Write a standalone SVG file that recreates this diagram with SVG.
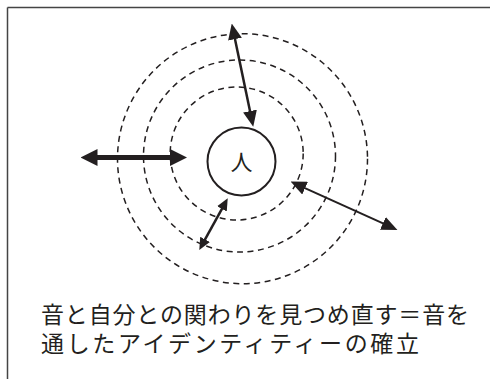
<svg xmlns="http://www.w3.org/2000/svg" width="490" height="379" viewBox="0 0 490 379">
<style>
.dash{fill:none;stroke:#231f20;stroke-width:1.5;stroke-dasharray:6 4.5}
.arr{stroke:#231f20;fill:none}
.lbl{font-family:"Liberation Serif","Noto Sans CJK JP",serif;fill:#231f20}
</style>
<defs>
<marker id="h16" markerUnits="userSpaceOnUse" markerWidth="16" markerHeight="14" refX="2" refY="7" orient="auto-start-reverse"><path d="M0,0 L16,7 L0,14 z" fill="#231f20"/></marker>
<marker id="h17" markerUnits="userSpaceOnUse" markerWidth="17" markerHeight="17" refX="2" refY="8.5" orient="auto-start-reverse"><path d="M0,0 L17,8.5 L0,17 z" fill="#231f20"/></marker>
<marker id="h12" markerUnits="userSpaceOnUse" markerWidth="12" markerHeight="11" refX="2" refY="5.5" orient="auto-start-reverse"><path d="M0,0 L12,5.5 L0,11 z" fill="#231f20"/></marker>
</defs>
<rect width="490" height="379" fill="#fff"/>
<g id="frame" stroke="#444" stroke-width="1.5" fill="none">
<line x1="7.5" y1="7.5" x2="490" y2="7.5"/>
<line x1="7.5" y1="7.5" x2="7.5" y2="379"/>
</g>
<g id="rings">
<circle class="dash" cx="236.7" cy="153.5" r="66.5"/>
<circle class="dash" cx="239.5" cy="156" r="96"/>
<circle class="dash" cx="242.5" cy="158.7" r="125"/>
</g>
<g id="person">
<circle cx="241.5" cy="161.5" r="34" fill="#fff" stroke="#231f20" stroke-width="2"/>
<text class="lbl" x="241.5" y="170" font-size="22" text-anchor="middle">人</text>
</g>
<g id="connectors">
<line class="arr" stroke-width="2.5" x1="234.6" y1="37.2" x2="250.4" y2="113" marker-start="url(#h16)" marker-end="url(#h16)"/>
<line class="arr" stroke-width="5" x1="95.5" y1="157.5" x2="172" y2="157.5" marker-start="url(#h17)" marker-end="url(#h17)"/>
<line class="arr" stroke-width="2" x1="303.3" y1="187.3" x2="384.7" y2="224.2" marker-start="url(#h16)" marker-end="url(#h16)"/>
<line class="arr" stroke-width="2.5" x1="222.9" y1="207.1" x2="204.1" y2="241.2" marker-start="url(#h12)" marker-end="url(#h12)"/>
</g>
<g id="caption">
<text class="lbl" x="41" y="323" font-size="23" textLength="428" lengthAdjust="spacing">音と自分との関わりを見つめ直す＝音を</text>
<text class="lbl" x="41" y="352" font-size="23" textLength="378" lengthAdjust="spacing">通したアイデンティティーの確立</text>
</g>
</svg>
